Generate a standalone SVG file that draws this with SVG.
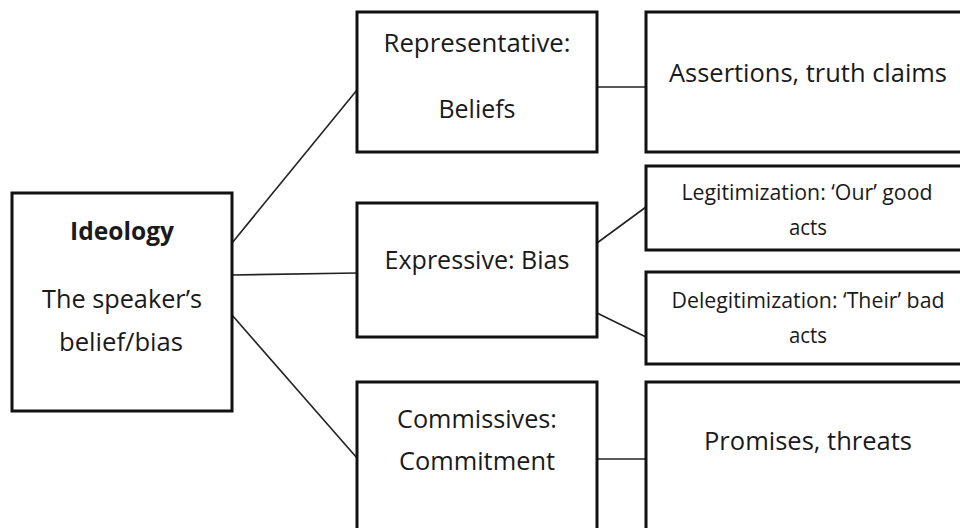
<svg xmlns="http://www.w3.org/2000/svg" width="960" height="528" viewBox="0 0 960 528">
<style>
.box{fill:#fff;stroke:#111;stroke-width:3}
.ln{stroke:#222;stroke-width:1.6;fill:none}
text{font-family:"Open Sans","Noto Sans","Liberation Sans",sans-serif;fill:#1a1a1a;text-anchor:middle}
.t{font-size:25px}
.s{font-size:21px}
.b{font-size:25px;font-weight:bold}
</style>
<rect width="960" height="528" fill="#fff"/>
<g id="connectors">
<line class="ln" x1="232" y1="243" x2="357" y2="90"/>
<line class="ln" x1="232" y1="275" x2="357" y2="273"/>
<line class="ln" x1="232" y1="315" x2="357" y2="458"/>
<line class="ln" x1="597" y1="87" x2="646" y2="87"/>
<line class="ln" x1="597" y1="243" x2="646" y2="207"/>
<line class="ln" x1="597" y1="313" x2="646" y2="337"/>
<line class="ln" x1="597" y1="459" x2="646" y2="459"/>
</g>
<g id="ideology">
<rect class="box" x="12" y="193" width="220" height="218"/>
<text class="b" x="122" y="240" textLength="104" lengthAdjust="spacingAndGlyphs">Ideology</text>
<text class="t" x="122" y="308" textLength="160" lengthAdjust="spacingAndGlyphs">The speaker’s</text>
<text class="t" x="121" y="351" textLength="124" lengthAdjust="spacingAndGlyphs">belief/bias</text>
</g>
<g id="representative">
<rect class="box" x="357" y="12" width="240" height="140"/>
<text class="t" x="477" y="52" textLength="187" lengthAdjust="spacingAndGlyphs">Representative:</text>
<text class="t" x="477" y="118" textLength="77" lengthAdjust="spacingAndGlyphs">Beliefs</text>
</g>
<g id="assertions">
<rect class="box" x="646" y="12" width="330" height="140"/>
<text class="t" x="808" y="82" textLength="278" lengthAdjust="spacingAndGlyphs">Assertions, truth claims</text>
</g>
<g id="expressive">
<rect class="box" x="357" y="203" width="240" height="134"/>
<text class="t" x="477" y="269" textLength="185" lengthAdjust="spacingAndGlyphs">Expressive: Bias</text>
</g>
<g id="legitimization">
<rect class="box" x="646" y="166" width="330" height="84"/>
<text class="s" x="807" y="200" textLength="251" lengthAdjust="spacingAndGlyphs">Legitimization: ‘Our’ good</text>
<text class="s" x="808" y="235" textLength="38" lengthAdjust="spacingAndGlyphs">acts</text>
</g>
<g id="delegitimization">
<rect class="box" x="646" y="272" width="330" height="92"/>
<text class="s" x="808" y="308" textLength="273" lengthAdjust="spacingAndGlyphs">Delegitimization: ‘Their’ bad</text>
<text class="s" x="808" y="343" textLength="38" lengthAdjust="spacingAndGlyphs">acts</text>
</g>
<g id="commissives">
<rect class="box" x="357" y="382" width="240" height="160"/>
<text class="t" x="477" y="428" textLength="160" lengthAdjust="spacingAndGlyphs">Commissives:</text>
<text class="t" x="477" y="470" textLength="156" lengthAdjust="spacingAndGlyphs">Commitment</text>
</g>
<g id="promises">
<rect class="box" x="646" y="382" width="330" height="160"/>
<text class="t" x="808" y="450" textLength="208" lengthAdjust="spacingAndGlyphs">Promises, threats</text>
</g>
</svg>
